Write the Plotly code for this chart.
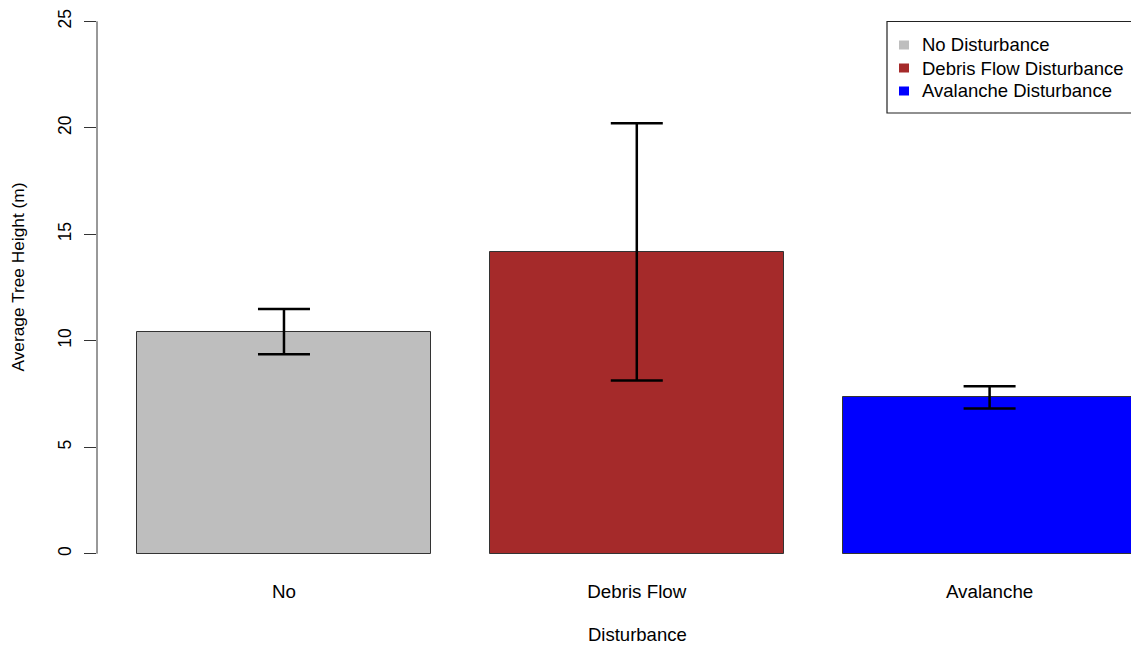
import plotly.graph_objects as go

# Mean tree height per disturbance type, with error (+/-) values
categories = ["No", "Debris Flow", "Avalanche"]
legend_names = ["No Disturbance", "Debris Flow Disturbance", "Avalanche Disturbance"]
mean_height = [10.43, 14.17, 7.34]
error_height = [1.06, 6.04, 0.52]
bar_colors = ["#BEBEBE", "#A52A2A", "#0000FF"]
bar_centers = [0.7, 1.9, 3.1]
y_ticks = [0, 5, 10, 15, 20, 25]
x_title = "Disturbance"
y_title = "Average Tree Height (m)"

FONT = "Liberation Sans, Arial, sans-serif"
W, H = 1131, 645
M_L, M_B = 97, 70
PLOT_W, PLOT_H = W - M_L, H - M_B


def px_x(px):
    """Pixel column -> paper x."""
    return (px - M_L) / PLOT_W


def px_y(py):
    """Pixel row (from top) -> paper y."""
    return (PLOT_H - py) / PLOT_H


fig = go.Figure()
for name, m, e, c, xc in zip(legend_names, mean_height, error_height,
                             bar_colors, bar_centers):
    fig.add_trace(go.Bar(
        x=[xc], y=[m], width=1.0, name=name, showlegend=False,
        marker=dict(color=c, line=dict(color="#333333", width=1)),
        error_y=dict(type="data", array=[e], visible=True,
                     color="black", thickness=2.5, width=26),
    ))

# left axis line spanning only the tick range
fig.add_shape(type="line", xref="paper", yref="y", x0=0, x1=0,
              y0=y_ticks[0], y1=y_ticks[-1],
              line=dict(color="#333333", width=1))

# boxed legend in the top-right corner
fig.add_shape(type="rect", xref="paper", yref="paper",
              x0=px_x(887), x1=px_x(1160), y0=px_y(113), y1=px_y(21.5),
              line=dict(color="#222222", width=1.2), fillcolor="white",
              layer="above")
row_y = [45, 68, 91]
for name, c, ry in zip(legend_names, bar_colors, row_y):
    fig.add_shape(type="rect", xref="paper", yref="paper",
                  x0=px_x(899), x1=px_x(909), y0=px_y(ry + 4.5), y1=px_y(ry - 4.5),
                  line=dict(width=0), fillcolor=c, layer="above")
    fig.add_annotation(x=px_x(920), y=px_y(ry), xref="paper", yref="paper",
                       text=name, showarrow=False, xanchor="left",
                       yanchor="middle", font=dict(size=18.5, color="black"))

# axis titles, centred on the full (wider) plotting region
fig.add_annotation(x=px_x(637), y=px_y(634), xref="paper", yref="paper",
                   text=x_title, showarrow=False, xanchor="center",
                   yanchor="middle", font=dict(size=18.5, color="black"))
fig.add_annotation(x=px_x(17), y=px_y(277.5), xref="paper", yref="paper",
                   text=y_title, showarrow=False, textangle=-90,
                   xanchor="center", yanchor="middle",
                   font=dict(size=17.3, color="black"))

fig.update_layout(
    width=W, height=H,
    margin=dict(l=M_L, r=0, t=0, b=M_B),
    plot_bgcolor="white", paper_bgcolor="white",
    font=dict(family=FONT, size=17, color="black"),
    showlegend=False,
    bargap=0,
    xaxis=dict(range=[0.064, 3.581], showgrid=False, zeroline=False,
               showline=False, ticks="", tickvals=bar_centers,
               ticktext=categories, ticklabelstandoff=3,
               tickfont=dict(size=18.8)),
    yaxis=dict(range=[-1, 26], showgrid=False, zeroline=False,
               showline=False, ticks="outside", ticklen=12,
               tickcolor="#333333", tickvals=y_ticks, tickangle=-90,
               ticklabelstandoff=6, tickfont=dict(size=17.5)),
)

fig.write_html("out.html")
